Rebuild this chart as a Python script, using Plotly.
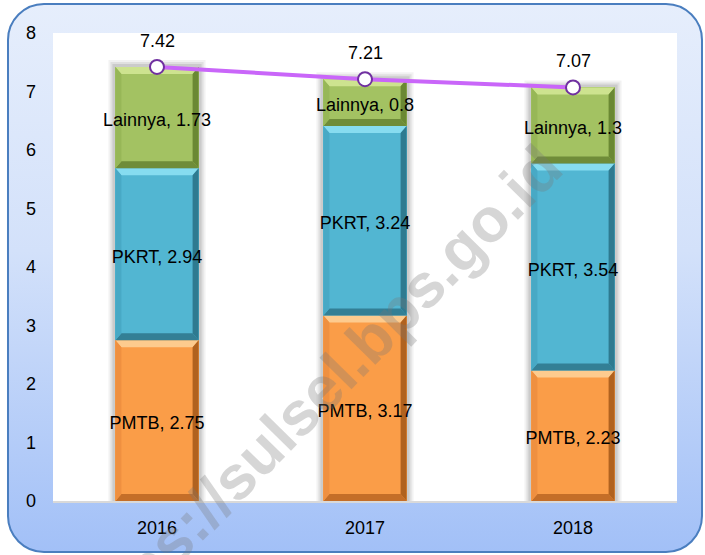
import base64
import plotly.graph_objects as go

# ---------------- data ----------------
years = ["2016", "2017", "2018"]
pmtb = [2.75, 3.17, 2.23]
pkrt = [2.94, 3.24, 3.54]
lainnya = [1.73, 0.8, 1.3]
totals = [7.42, 7.21, 7.07]
series_names = ["PMTB", "PKRT", "Lainnya"]
y_ticks = [0, 1, 2, 3, 4, 5, 6, 7, 8]

# ---------------- styling ----------------
W, H = 705, 555
PL, PR, PT, PB = 53, 677, 33, 501          # plot area in pixels
FONT = "Liberation Sans, Arial, sans-serif"
FS = 18
BAR_W = 0.4
base_col = ["#fa9d48", "#52b6d2", "#a3c262"]
face_col = {  # top, bottom, left, right
    0: ["#fdcb8e", "#c46e28", "#ef9040", "#b0621f"],
    1: ["#86dcf0", "#337f95", "#48a9c5", "#2e7a90"],
    2: ["#cde38f", "#6f8c39", "#97b757", "#6a8833"],
}
xs_per_px = 3.0 / (PR - PL)
ys_per_px = 8.0 / (PB - PT)
BEV_X, BEV_Y = 6 * xs_per_px, 7 * ys_per_px
LABEL_DROP = 4 * ys_per_px

svg = f"""<svg xmlns='http://www.w3.org/2000/svg' width='{W}' height='{H}'>
<defs><linearGradient id='g' x1='0' y1='0' x2='0' y2='1'>
<stop offset='0' stop-color='#e6eefc'/><stop offset='0.45' stop-color='#d3e1fa'/><stop offset='1' stop-color='#a2c0f7'/>
</linearGradient></defs>
<rect x='8' y='4' width='694' height='548' rx='36' ry='36' fill='url(#g)' stroke='#4a7ebf' stroke-width='2'/>
<rect x='{PL}' y='{PT}' width='{PR-PL}' height='{PB-PT}' fill='white'/>
</svg>"""
svg_uri = "data:image/svg+xml;base64," + base64.b64encode(svg.encode()).decode()

fig = go.Figure()

series = [pmtb, pkrt, lainnya]
xi = list(range(len(years)))

# bars
for s, vals in enumerate(series):
    fig.add_trace(go.Bar(
        x=xi, y=vals, width=BAR_W, name=series_names[s],
        marker=dict(color=base_col[s], line=dict(width=0)),
        hoverinfo="skip", showlegend=False,
    ))

# bevel faces
bottoms = [0.0] * len(years)
seg_bounds = []
for s, vals in enumerate(series):
    b = []
    for i, v in enumerate(vals):
        b.append((bottoms[i], bottoms[i] + v))
        bottoms[i] += v
    seg_bounds.append(b)

for s in range(len(series)):
    faces = {0: ([], []), 1: ([], []), 2: ([], []), 3: ([], [])}
    for i in xi:
        y0, y1 = seg_bounds[s][i]
        x0, x1 = i - BAR_W / 2, i + BAR_W / 2
        polys = [
            [(x0, y1), (x1, y1), (x1 - BEV_X, y1 - BEV_Y), (x0 + BEV_X, y1 - BEV_Y)],
            [(x0, y0), (x1, y0), (x1 - BEV_X, y0 + BEV_Y), (x0 + BEV_X, y0 + BEV_Y)],
            [(x0, y0), (x0, y1), (x0 + BEV_X, y1 - BEV_Y), (x0 + BEV_X, y0 + BEV_Y)],
            [(x1, y0), (x1, y1), (x1 - BEV_X, y1 - BEV_Y), (x1 - BEV_X, y0 + BEV_Y)],
        ]
        for f, poly in enumerate(polys):
            px, py = faces[f]
            px += [p[0] for p in poly] + [poly[0][0], None]
            py += [p[1] for p in poly] + [poly[0][1], None]
    for f in range(4):
        fig.add_trace(go.Scatter(
            x=faces[f][0], y=faces[f][1], mode="lines", fill="toself",
            fillcolor=face_col[s][f], line=dict(width=0),
            hoverinfo="skip", showlegend=False,
        ))

# segment labels
lx, ly, lt = [], [], []
for s, vals in enumerate(series):
    for i, v in enumerate(vals):
        y0, y1 = seg_bounds[s][i]
        lx.append(i)
        ly.append((y0 + y1) / 2 - LABEL_DROP)
        lt.append(f"{series_names[s]}, {v:g}")
fig.add_trace(go.Scatter(
    x=lx, y=ly, text=lt, mode="text", textposition="middle center",
    textfont=dict(family=FONT, size=FS, color="black"),
    hoverinfo="skip", showlegend=False,
))

# total line
fig.add_trace(go.Scatter(
    x=xi, y=totals, mode="lines+markers",
    line=dict(color="#c966f9", width=4),
    marker=dict(size=14, color="white", line=dict(color="#7030a0", width=2)),
    hoverinfo="skip", showlegend=False,
))

# shadows
shapes = []
for i in xi:
    for ex, a in [(7, 0.05), (5, 0.07), (3, 0.09)]:
        shapes.append(dict(
            type="rect", xref="x", yref="y", layer="below",
            x0=i - BAR_W / 2 - ex * xs_per_px, x1=i + BAR_W / 2 + ex * xs_per_px,
            y0=0, y1=totals[i] + ex * ys_per_px,
            fillcolor=f"rgba(0,0,0,{a})", line=dict(width=0),
        ))

annotations = []
for i, t in enumerate(totals):
    annotations.append(dict(
        x=i, y=t, xref="x", yref="y", text=f"{t:.2f}", showarrow=False,
        yshift=26, font=dict(family=FONT, size=FS, color="black"),
    ))
# watermark (positioned in axis units derived from pixel location)
wm_px, wm_py = 313, 397
annotations.append(dict(
    x=-0.5 + (wm_px - PL) * xs_per_px, y=(PB - wm_py) * ys_per_px,
    xref="x", yref="y",
    text="<b>https://sulsel.bps.go.id</b>", showarrow=False, textangle=-45.5,
    font=dict(family="Liberation Sans, Arial, sans-serif", size=62, color="rgba(120,120,120,0.30)"),
))

fig.update_layout(
    width=W, height=H,
    margin=dict(l=0, r=0, t=0, b=0, autoexpand=False),
    paper_bgcolor="white", plot_bgcolor="rgba(0,0,0,0)",
    barmode="stack", bargap=0,
    showlegend=False,
    images=[dict(source=svg_uri, xref="paper", yref="paper", x=0, y=1,
                 sizex=1, sizey=1, xanchor="left", yanchor="top",
                 sizing="stretch", layer="below")],
    shapes=shapes,
    annotations=annotations,
    xaxis=dict(
        domain=[PL / W, PR / W], range=[-0.5, 2.5],
        tickmode="array", tickvals=xi, ticktext=years,
        showgrid=False, zeroline=False, showline=True, linecolor="#d9d9d9", linewidth=2,
        ticks="", ticklabelstandoff=9,
        tickfont=dict(family=FONT, size=FS, color="black"),
        fixedrange=True,
    ),
    yaxis=dict(
        domain=[1 - PB / H, 1 - PT / H], range=[0, 8],
        tickmode="array", tickvals=y_ticks,
        showgrid=False, zeroline=False, showline=False,
        ticks="", ticklabelstandoff=16,
        tickfont=dict(family=FONT, size=FS, color="black"),
        fixedrange=True,
    ),
)

fig.write_html(
    "out.html",
    config={"displayModeBar": False},
    post_script="document.body.style.margin='0';document.body.style.overflow='hidden';",
)
